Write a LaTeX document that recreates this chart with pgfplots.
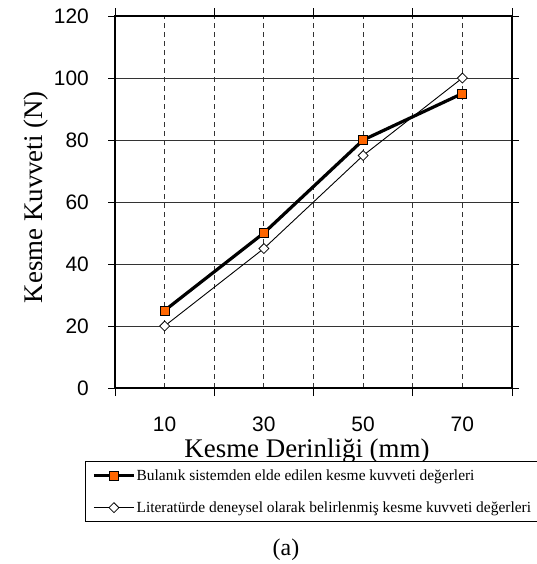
\documentclass[border=0pt]{standalone}
\usepackage{pgfplots}
\pgfplotsset{compat=1.18}
\usepackage{fontspec}
\setmainfont{Liberation Serif}
\newfontfamily\arial{Liberation Sans}
\definecolor{sqorange}{HTML}{FF6600}
\definecolor{gridc}{HTML}{333333}
\begin{document}
\begin{tikzpicture}[x=1bp,y=1bp]
\useasboundingbox (0,0) rectangle (537,-564);
\begin{axis}[
  at={(115bp,-388bp)}, anchor=south west,
  scale only axis, width=397bp, height=372bp,
  xmin=0, xmax=80, ymin=0, ymax=120,
  xtick={10,30,50,70},
  minor xtick={0,20,40,60,80},
  ytick={0,20,...,120},
  tick align=outside,
  major tick length=7bp, minor tick length=8bp,
  major x tick style={draw=none},
  tick style={black, line width=0.8bp},
  xmajorgrids, xminorgrids, ymajorgrids,
  major x grid style={gridc, line width=0.8bp, dash pattern=on 5bp off 4bp},
  minor x grid style={gridc, line width=0.8bp, dash pattern=on 5bp off 4bp},
  major y grid style={gridc, line width=0.8bp},
  axis line style={black, line width=1.6bp},
  /pgf/number format/assume math mode=true,
  ticklabel style={font=\arial\fontsize{21}{21}\selectfont, inner sep=0pt},
  xticklabel style={anchor=north, yshift=-22bp},
  yticklabel style={anchor=east, xshift=-19bp},
  xlabel={Kesme Derinliği (mm)},
  ylabel={Kesme Kuvveti (N)},
  label style={font=\fontsize{27}{27}\selectfont, inner sep=0pt},
  xlabel style={at={(axis description cs:0.4836,-0.188)}, anchor=base},
  ylabel style={at={(axis description cs:-0.1814,0.513)}, anchor=base},
  legend style={at={(axis description cs:-0.0756,-0.196)}, anchor=north west,
    draw=black, line width=0.8bp, inner xsep=7bp, inner ysep=7bp,
    row sep=18bp, font=\fontsize{15.5}{15.5}\selectfont,
    nodes={inner sep=1bp}},
  legend cell align=left,
  reverse legend,
  legend image code/.code={\draw[mark repeat=2,mark phase=2] plot coordinates {(0bp,0bp) (20bp,0bp) (40bp,0bp)};},
  clip=false,
]
\addplot[black, line width=0.9bp, mark=square*, mark size=3.5bp,
  mark options={solid, fill=white, draw=black, line width=0.8bp, rotate=45}]
  coordinates {(10,20) (30,45) (50,75) (70,100)};
\addlegendentry{Literatürde deneysel olarak belirlenmiş kesme kuvveti değerleri}
\addplot[black, line width=3.2bp, mark=square*, mark size=4.5bp,
  mark options={solid, fill=sqorange, draw=black, line width=0.8bp}]
  coordinates {(10,25) (30,50) (50,80) (70,95)};
\addlegendentry{Bulanık sistemden elde edilen kesme kuvveti değerleri}
\end{axis}
\node[anchor=base, font=\fontsize{24}{24}\selectfont, inner sep=0pt] at (286,-555) {(a)};
\end{tikzpicture}
\end{document}
